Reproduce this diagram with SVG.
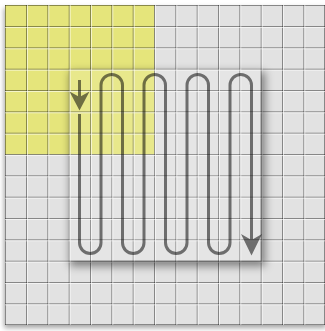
<svg xmlns="http://www.w3.org/2000/svg" width="325" height="331" viewBox="0 0 325 331">
<defs>
<style>
.dk{stroke:#000;stroke-opacity:0.4;stroke-width:1;fill:none}
.hl{stroke:#fff;stroke-opacity:0.6;stroke-width:1;fill:none}
.pth{stroke:#000;stroke-width:3;fill:none}
</style>
<filter id="blur" x="-20%" y="-20%" width="140%" height="140%"><feGaussianBlur stdDeviation="4"/></filter>
<filter id="blur2" x="-20%" y="-20%" width="140%" height="140%"><feGaussianBlur stdDeviation="2.5"/></filter>
<mask id="outBox" maskUnits="userSpaceOnUse" x="0" y="0" width="325" height="331">
<rect x="0" y="0" width="325" height="331" fill="#fff"/>
<rect x="68.67" y="68.67" width="192" height="192" fill="#000"/>
</mask>
<mask id="outPanel" maskUnits="userSpaceOnUse" x="0" y="0" width="325" height="331">
<rect x="0" y="0" width="325" height="331" fill="#fff"/>
<rect x="5" y="5" width="320" height="320" fill="#000"/>
</mask>
</defs>
<rect width="325" height="331" fill="#fff"/>
<g id="panel">
<rect x="4" y="8" width="322" height="320" fill="#000" fill-opacity="0.35" filter="url(#blur2)" mask="url(#outPanel)"/>
<rect x="5" y="5" width="320" height="320" fill="#e2e2e2"/>
<rect x="5" y="5" width="149.33" height="149.33" fill="#e5e57b"/>
<g id="grid">
<path class="dk" d="M5.5 5V325M26.5 5V325M47.8 5V325M69.2 5V325M90.5 5V325M111.8 5V325M133.2 5V325M154.5 5V325M175.8 5V325M197.2 5V325M218.5 5V325M239.8 5V325M261.2 5V325M282.5 5V325M303.8 5V325M324.5 5V325"/>
<path class="dk" d="M5 5.5H325M5 26.5H325M5 47.8H325M5 69.2H325M5 90.5H325M5 111.8H325M5 133.2H325M5 154.5H325M5 175.8H325M5 197.2H325M5 218.5H325M5 239.8H325M5 261.2H325M5 282.5H325M5 303.8H325M5 324.5H325"/>
<path class="hl" d="M27.5 5V325M48.8 5V325M70.2 5V325M91.5 5V325M112.8 5V325M134.2 5V325M155.5 5V325M176.8 5V325M198.2 5V325M219.5 5V325M240.8 5V325M262.2 5V325M283.5 5V325M304.8 5V325"/>
<path class="hl" d="M5 27.5H325M5 48.8H325M5 70.2H325M5 91.5H325M5 112.8H325M5 134.2H325M5 155.5H325M5 176.8H325M5 198.2H325M5 219.5H325M5 240.8H325M5 262.2H325M5 283.5H325M5 304.8H325"/>
</g>
</g>
<g id="box">
<rect x="70" y="72" width="195" height="194" fill="#000" fill-opacity="0.45" filter="url(#blur)" mask="url(#outBox)"/>
<rect x="68.67" y="68.67" width="192" height="192" fill="#fff" fill-opacity="0.12"/>
</g>
<g id="connectors" opacity="0.52">
<path class="pth" d="M79.5 80V100"/>
<polygon points="69.5,91.5 79.5,97 89.5,91.5 79.5,110.5" fill="#000"/>
<path class="pth" d="M79.5 114V242.75A10.75 10.75 0 0 0 101 242.75V85.25A10.75 10.75 0 0 1 122.5 85.25V242.75A10.75 10.75 0 0 0 144 242.75V85.25A10.75 10.75 0 0 1 165.5 85.25V242.75A10.75 10.75 0 0 0 187 242.75V85.25A10.75 10.75 0 0 1 208.5 85.25V242.75A10.75 10.75 0 0 0 230 242.75V85.25A10.75 10.75 0 0 1 251.5 85.25V240"/>
<polygon points="241,234 251.5,240 262,234 251.5,255.5" fill="#000"/>
</g>
</svg>
